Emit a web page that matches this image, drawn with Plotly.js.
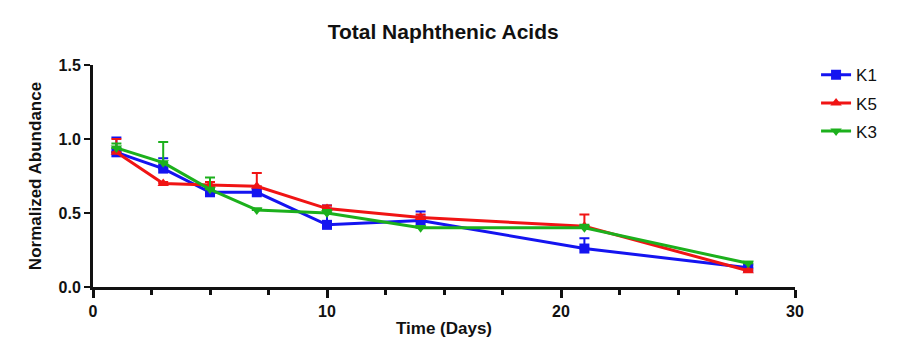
<!DOCTYPE html>
<html>
<head>
<meta charset="utf-8">
<script src="https://cdn.plot.ly/plotly-3.0.1.min.js"></script>
<style>
  body { margin: 0; background: #fff; }
  #chart { width: 910px; height: 353px; }
</style>
</head>
<body>
<div id="chart"></div>
<script>
// time points (days)
var days = [1, 3, 5, 7, 10, 14, 21, 28];

// normalized abundance
var k1 = [0.91, 0.80, 0.64, 0.64, 0.42, 0.45, 0.26, 0.13];
var k5 = [0.91, 0.70, 0.69, 0.68, 0.53, 0.47, 0.41, 0.11];
var k3 = [0.94, 0.84, 0.66, 0.52, 0.50, 0.40, 0.40, 0.16];

// upper error bars only
var k1Err = [0.10, 0.07, 0.07, 0.02, 0.13, 0.06, 0.07, 0.02];
var k5Err = [0.09, 0.01, 0.02, 0.09, 0.02, 0.02, 0.08, 0.01];
var k3Err = [0.03, 0.14, 0.08, 0.01, 0.02, 0.01, 0.02, 0.01];

var yTicks = [0, 0.5, 1.0, 1.5];
var yTickText = ['0.0', '0.5', '1.0', '1.5'];

function series(name, y, err, color, symbol, group) {
    return {
        x: days,
        y: y,
        name: name,
        legendgroup: group,
        type: 'scatter',
        mode: 'lines+markers',
        line: {color: color, width: 3},
        marker: {color: color, symbol: symbol, size: 10},
        error_y: {
            type: 'data',
            symmetric: false,
            array: err,
            arrayminus: err.map(function () { return 0; }),
            color: color,
            thickness: 2,
            width: 5
        }
    };
}

function buildChart() {
    var data = [
        series('K1', k1, k1Err, '#1414f0', 'square', 'a'),
        series('K5', k5, k5Err, '#f01414', 'triangle-up', 'b'),
        series('K3', k3, k3Err, '#1cb01c', 'triangle-down', 'c')
    ];

    var layout = {
        width: 910,
        height: 353,
        paper_bgcolor: '#fff',
        plot_bgcolor: '#fff',
        font: {family: 'Liberation Sans, Arial, sans-serif', color: '#111', size: 16},
        margin: {l: 93, r: 115, t: 65, b: 66},
        title: {
            text: '<b>Total Naphthenic Acids</b>',
            font: {size: 21, color: '#111'},
            x: 0.487, xanchor: 'center',
            y: 0.91, yanchor: 'middle'
        },
        xaxis: {
            range: [0, 30],
            tickvals: [0, 10, 20, 30],
            ticks: 'outside',
            ticklen: 8,
            tickwidth: 3,
            tickcolor: '#111',
            showline: true,
            linewidth: 3,
            linecolor: '#111',
            showgrid: false,
            zeroline: false,
            tickfont: {size: 16, weight: 'bold'},
            minor: {dtick: 2.5, ticks: 'outside', ticklen: 5, tickwidth: 3, tickcolor: '#111', showgrid: false},
            title: {text: '<b>Time (Days)</b>', font: {size: 17}, standoff: 3}
        },
        yaxis: {
            range: [0, 1.5],
            tickvals: yTicks,
            ticktext: yTickText,
            ticks: 'outside',
            ticklen: 6,
            tickwidth: 2,
            tickcolor: '#111',
            showline: true,
            linewidth: 3,
            linecolor: '#111',
            showgrid: false,
            zeroline: false,
            tickfont: {size: 16, weight: 'bold'},
            title: {text: '<b>Normalized Abundance</b>', font: {size: 17}, standoff: 13}
        },
        legend: {
            x: 1.03, xanchor: 'left',
            y: 1.035, yanchor: 'top',
            font: {size: 17},
            tracegroupgap: 3,
            bgcolor: 'rgba(0,0,0,0)'
        },
        showlegend: true
    };

    Plotly.newPlot('chart', data, layout, {displayModeBar: false, staticPlot: true});
}

buildChart();
</script>
</body>
</html>
